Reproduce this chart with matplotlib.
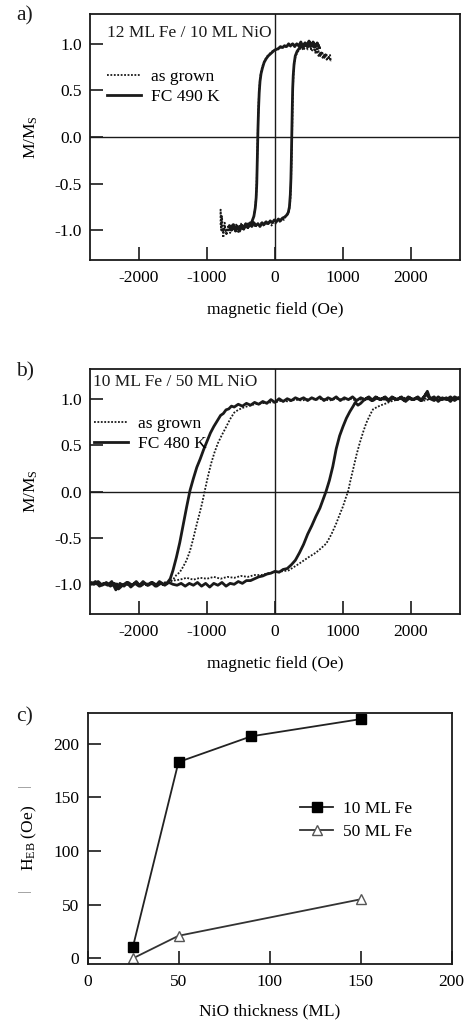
import matplotlib
matplotlib.use("Agg")
import matplotlib.pyplot as plt

plt.rcParams['font.family'] = ['Liberation Serif', 'DejaVu Serif']
plt.rcParams['mathtext.fontset'] = 'custom'
plt.rcParams['mathtext.rm'] = 'Liberation Serif'
plt.rcParams['mathtext.it'] = 'Liberation Serif:italic'
plt.rcParams['axes.unicode_minus'] = False

# ---------------- panel a: 12 ML Fe / 10 ML NiO ----------------
a_grown_desc = [(820, 0.82), (790, 0.86), (760, 0.83), (730, 0.89), (700, 0.85), (670, 0.91), (640, 0.87),
                (610, 0.95), (590, 0.91), (560, 0.99), (530, 0.95), (500, 1.01), (470, 0.97), (440, 1.02),
                (410, 0.98), (380, 1.01), (350, 0.97), (320, 1.00), (290, 0.98), (260, 1.01), (230, 0.97),
                (200, 0.99), (170, 0.96), (140, 0.98), (110, 0.95), (80, 0.96), (50, 0.94), (20, 0.95),
                (-10, 0.93), (-40, 0.92), (-70, 0.90), (-100, 0.88), (-130, 0.85), (-160, 0.81), (-185, 0.76),
                (-205, 0.70), (-220, 0.62), (-232, 0.50), (-242, 0.35), (-250, 0.15), (-256, -0.05),
                (-262, -0.25), (-268, -0.45), (-276, -0.62), (-288, -0.74), (-305, -0.83), (-330, -0.89),
                (-360, -0.93), (-390, -0.91), (-420, -0.97), (-450, -0.93), (-480, -1.00), (-510, -0.95),
                (-540, -1.02), (-570, -0.94), (-600, -0.99), (-630, -0.93), (-660, -1.03), (-690, -0.96),
                (-720, -1.05), (-740, -0.92), (-760, -1.08), (-780, -0.85), (-790, -1.00), (-800, -0.78)]
a_grown_asc = [(-800, -0.95), (-770, -1.02), (-740, -0.97), (-710, -1.04), (-680, -0.96), (-650, -1.01),
               (-620, -0.95), (-590, -1.00), (-560, -0.94), (-530, -0.99), (-500, -0.93), (-470, -0.98),
               (-440, -0.94), (-410, -0.97), (-380, -0.93), (-350, -0.96), (-320, -0.92), (-290, -0.97),
               (-260, -0.93), (-230, -0.96), (-200, -0.92), (-170, -0.95), (-140, -0.91), (-110, -0.94),
               (-80, -0.90), (-50, -0.95), (-20, -0.91), (10, -0.93), (40, -0.89), (70, -0.91), (100, -0.87),
               (130, -0.89), (160, -0.85), (190, -0.83), (210, -0.78), (225, -0.68), (235, -0.50),
               (242, -0.30), (248, -0.10), (253, 0.10), (258, 0.30), (263, 0.50), (270, 0.65), (282, 0.78),
               (300, 0.86), (330, 0.91), (360, 0.94), (390, 0.96), (420, 0.93), (450, 0.98), (480, 0.94),
               (510, 0.99), (540, 0.92), (570, 0.97), (600, 0.89), (630, 0.95), (660, 0.86), (690, 0.92),
               (720, 0.84), (750, 0.90), (780, 0.83), (810, 0.88), (820, 0.81)]
a_fc_desc = [(650, 0.96), (620, 1.01), (590, 0.97), (560, 1.02), (530, 0.98), (500, 1.03), (470, 0.99),
             (440, 1.01), (410, 0.97), (380, 1.02), (350, 0.98), (320, 1.00), (290, 0.97), (260, 1.00),
             (230, 0.98), (200, 1.00), (170, 0.97), (140, 0.98), (110, 0.96), (80, 0.97), (50, 0.95),
             (20, 0.94), (-10, 0.93), (-40, 0.91), (-70, 0.89), (-100, 0.87), (-130, 0.84), (-160, 0.80),
             (-185, 0.74), (-205, 0.68), (-220, 0.60), (-232, 0.48), (-242, 0.30), (-250, 0.10),
             (-256, -0.10), (-262, -0.30), (-268, -0.50), (-277, -0.65), (-290, -0.76), (-310, -0.85),
             (-340, -0.91), (-370, -0.94), (-400, -0.97), (-430, -0.93), (-460, -0.99), (-490, -0.95),
             (-520, -1.01), (-550, -0.96), (-580, -1.00), (-610, -0.94), (-640, -0.99), (-670, -0.95)]
a_fc_asc = [(-670, -0.97), (-640, -1.00), (-610, -0.96), (-580, -1.01), (-550, -0.97), (-520, -0.99),
            (-490, -0.95), (-460, -0.98), (-430, -0.94), (-400, -0.97), (-370, -0.93), (-340, -0.96),
            (-310, -0.92), (-280, -0.95), (-250, -0.93), (-220, -0.96), (-190, -0.92), (-160, -0.94),
            (-130, -0.91), (-100, -0.93), (-70, -0.90), (-40, -0.92), (-10, -0.89), (20, -0.91),
            (50, -0.88), (80, -0.90), (110, -0.87), (140, -0.86), (170, -0.84), (195, -0.81),
            (212, -0.75), (225, -0.62), (234, -0.45), (240, -0.25), (245, -0.05), (250, 0.15),
            (255, 0.35), (260, 0.52), (268, 0.66), (280, 0.78), (298, 0.87), (325, 0.92), (355, 0.95),
            (385, 0.98), (415, 0.96), (445, 1.00), (475, 0.97), (505, 1.02), (535, 0.98), (565, 1.01),
            (595, 0.97), (625, 1.00), (650, 0.96)]

# ---------------- panel b: 10 ML Fe / 50 ML NiO ----------------
b_grown_desc = [(2700, 1.00), (2600, 0.99), (2500, 1.01), (2400, 0.99), (2300, 1.00), (2200, 0.98),
                (2100, 1.00), (2000, 0.99), (1900, 1.01), (1800, 0.99), (1700, 1.00), (1600, 0.99),
                (1500, 1.01), (1400, 0.99), (1300, 1.00), (1200, 0.98), (1100, 1.00), (1000, 0.99),
                (900, 1.00), (800, 0.98), (700, 1.00), (600, 0.99), (500, 1.00), (400, 0.98), (300, 0.99),
                (200, 0.97), (100, 0.98), (0, 0.96), (-100, 0.96), (-200, 0.95), (-300, 0.94), (-400, 0.92),
                (-480, 0.90), (-540, 0.88), (-600, 0.85), (-660, 0.78), (-715, 0.70), (-780, 0.61),
                (-840, 0.52), (-890, 0.42), (-940, 0.30), (-990, 0.15), (-1035, 0.00), (-1070, -0.12),
                (-1107, -0.23), (-1160, -0.38), (-1206, -0.52), (-1250, -0.64), (-1300, -0.74),
                (-1350, -0.81), (-1400, -0.87), (-1450, -0.90), (-1500, -0.95), (-1560, -0.97),
                (-1650, -0.99), (-1800, -1.00), (-2000, -0.99), (-2200, -1.01), (-2400, -0.99),
                (-2600, -1.00), (-2700, -1.00)]
b_grown_asc = [(-2700, -1.00), (-2400, -0.99), (-2100, -1.00), (-1800, -0.99), (-1600, -0.98),
               (-1500, -0.96), (-1400, -0.95), (-1300, -0.93), (-1200, -0.95), (-1100, -0.93),
               (-1000, -0.94), (-900, -0.92), (-800, -0.94), (-700, -0.92), (-600, -0.93), (-500, -0.91),
               (-400, -0.92), (-300, -0.90), (-200, -0.90), (-100, -0.88), (0, -0.87), (100, -0.86),
               (200, -0.85), (265, -0.82), (350, -0.78), (430, -0.74), (510, -0.70), (600, -0.66),
               (680, -0.61), (755, -0.56), (830, -0.46), (903, -0.34), (950, -0.25), (1000, -0.16),
               (1040, -0.07), (1074, 0.00), (1110, 0.12), (1147, 0.235), (1200, 0.40), (1245, 0.52),
               (1300, 0.65), (1343, 0.74), (1400, 0.83), (1441, 0.885), (1500, 0.91), (1560, 0.93),
               (1637, 0.95), (1700, 0.97), (1800, 0.99), (1900, 1.00), (2000, 0.99), (2200, 1.00),
               (2400, 0.99), (2600, 1.01), (2700, 1.00)]
b_fc_desc = [(2700, 1.01), (2640, 0.98), (2580, 1.02), (2520, 0.99), (2460, 1.01), (2400, 0.97),
             (2340, 1.02), (2280, 1.00), (2220, 1.05), (2160, 0.98), (2100, 1.02), (2040, 0.99),
             (1980, 1.01), (1920, 0.97), (1860, 1.02), (1800, 0.99), (1740, 1.01), (1680, 0.98),
             (1620, 1.02), (1560, 0.99), (1500, 1.01), (1440, 0.98), (1380, 1.02), (1320, 0.99),
             (1260, 1.01), (1200, 0.98), (1140, 1.02), (1080, 0.99), (1020, 1.01), (960, 0.98),
             (900, 1.02), (840, 0.99), (780, 1.01), (720, 0.98), (660, 1.02), (600, 0.99), (540, 1.01),
             (480, 0.98), (420, 1.01), (360, 0.99), (300, 1.01), (240, 0.98), (180, 1.00), (120, 0.97),
             (60, 1.00), (0, 0.96), (-60, 0.99), (-120, 0.95), (-180, 0.97), (-240, 0.94), (-300, 0.96),
             (-360, 0.93), (-420, 0.95), (-480, 0.92), (-540, 0.94), (-600, 0.91), (-640, 0.92),
             (-680, 0.89), (-720, 0.88), (-760, 0.84), (-800, 0.82), (-850, 0.76), (-900, 0.70),
             (-950, 0.63), (-1000, 0.54), (-1050, 0.45), (-1100, 0.35), (-1150, 0.26), (-1200, 0.14),
             (-1250, 0.01), (-1300, -0.17), (-1350, -0.36), (-1400, -0.55), (-1450, -0.71),
             (-1500, -0.85), (-1540, -0.94), (-1580, -0.98), (-1640, -1.00), (-1700, -0.97),
             (-1760, -1.02), (-1820, -0.98), (-1880, -1.01), (-1940, -0.97), (-2000, -1.02),
             (-2060, -0.99), (-2120, -1.03), (-2180, -0.98), (-2240, -1.01), (-2300, -1.05),
             (-2360, -0.99), (-2420, -1.02), (-2480, -0.98), (-2540, -1.01), (-2600, -0.97),
             (-2660, -1.00), (-2700, -0.98)]
b_fc_asc = [(-2700, -1.00), (-2640, -0.97), (-2580, -1.02), (-2520, -0.99), (-2460, -1.01),
            (-2400, -0.97), (-2340, -1.06), (-2280, -0.99), (-2220, -1.02), (-2160, -0.98),
            (-2100, -1.01), (-2040, -0.97), (-1980, -1.02), (-1920, -0.99), (-1860, -1.01),
            (-1800, -0.98), (-1740, -1.02), (-1680, -0.99), (-1620, -1.01), (-1560, -0.98),
            (-1500, -1.00), (-1440, -1.01), (-1380, -0.99), (-1320, -1.02), (-1260, -0.99),
            (-1200, -1.01), (-1140, -0.98), (-1080, -1.02), (-1020, -0.99), (-960, -1.03),
            (-900, -0.99), (-840, -1.01), (-780, -0.98), (-720, -1.02), (-660, -0.99), (-600, -1.00),
            (-540, -0.97), (-480, -0.99), (-420, -0.96), (-360, -0.96), (-300, -0.94), (-240, -0.92),
            (-180, -0.91), (-120, -0.89), (-60, -0.88), (0, -0.86), (60, -0.87), (120, -0.84),
            (180, -0.83), (240, -0.79), (300, -0.74), (360, -0.66), (420, -0.57), (480, -0.46),
            (540, -0.37), (600, -0.27), (660, -0.18), (700, -0.10), (750, 0.00), (800, 0.12),
            (850, 0.27), (900, 0.46), (950, 0.60), (1000, 0.70), (1050, 0.79), (1100, 0.86),
            (1150, 0.92), (1180, 0.96), (1220, 0.93), (1260, 0.95), (1300, 0.98), (1360, 1.01),
            (1420, 0.98), (1480, 1.02), (1540, 0.99), (1600, 1.01), (1660, 0.98), (1720, 1.02),
            (1780, 0.99), (1840, 1.01), (1900, 0.98), (1960, 1.02), (2020, 0.99), (2080, 1.01),
            (2140, 0.98), (2200, 1.03), (2240, 1.08), (2280, 1.00), (2340, 0.98), (2400, 1.02),
            (2460, 0.99), (2520, 1.01), (2580, 0.97), (2640, 1.02), (2700, 1.00)]

# ---------------- panel c: exchange bias vs NiO thickness ----------------
c_thick_10 = [25, 50, 90, 150]
c_heb_10 = [11, 183, 207, 223]
c_thick_50 = [25, 50, 150]
c_heb_50 = [0, 21, 55]

hyst_xticks = [-2000, -1000, 0, 1000, 2000]
hyst_yticks = [-1.0, -0.5, 0.0, 0.5, 1.0]
c_xticks = [0, 50, 100, 150, 200]
c_yticks = [0, 50, 100, 150, 200]

INK = '#1a1a1a'
FS = 12.5
W, H = 466, 1023
fig = plt.figure(figsize=(W / 100, H / 100), dpi=100)


def box(l, t, r, b):
    return [l / W, 1 - b / H, (r - l) / W, (b - t) / H]


def style(ax):
    for s in ax.spines.values():
        s.set_color(INK)
        s.set_linewidth(1.3)
    ax.tick_params(direction='in', length=9.5, width=1.2, color=INK, labelsize=FS,
                   top=False, right=False, pad=6)
    ax.tick_params(axis='x', pad=7)


def split(pairs):
    return [p[0] for p in pairs], [p[1] for p in pairs]


dotted = dict(color=INK, lw=1.3, ls=(0, (1, 0.9)))
solid = dict(color=INK, lw=2.0, ls='-')


def hyst(ax, grown, fc, fc_label, title, leg_xy, title_xy):
    gd, ga = grown
    fd, fa = fc
    x, y = split(gd + ga)
    ax.plot(x, y, label='as grown', **dotted)
    x, y = split(fd + fa)
    ax.plot(x, y, label=fc_label, **solid)
    ax.axhline(0, color=INK, lw=1.0, zorder=0)
    ax.axvline(0, color=INK, lw=1.0, zorder=0)
    ax.set_xlim(-2720, 2720)
    ax.set_ylim(-1.32, 1.32)
    ax.set_xticks(hyst_xticks)
    ax.set_yticks(hyst_yticks)
    ax.set_yticklabels(['-1.0', '-0.5', '0.0', '0.5', '1.0'])
    ax.set_xlabel('magnetic field (Oe)', fontsize=FS, labelpad=12)
    ax.set_ylabel('M/M$_\\mathrm{S}$', fontsize=FS, labelpad=10)
    ax.text(title_xy[0], title_xy[1], title, transform=ax.transAxes, fontsize=FS,
            ha='left', va='center', color=INK)
    ax.legend(loc='center left', bbox_to_anchor=leg_xy, frameon=False, fontsize=FS,
              handlelength=2.0, handletextpad=0.55, labelspacing=0.22, borderpad=0,
              borderaxespad=0)
    style(ax)


axa = fig.add_axes(box(90, 14, 460, 260))
hyst(axa, (a_grown_desc, a_grown_asc), (a_fc_desc, a_fc_asc), 'FC 490 K',
     '12 ML Fe / 10 ML NiO', (0.045, 0.702), (0.046, 0.923))

axb = fig.add_axes(box(90, 369, 460, 614))
hyst(axb, (b_grown_desc, b_grown_asc), (b_fc_desc, b_fc_asc), 'FC 480 K',
     '10 ML Fe / 50 ML NiO', (0.01, 0.735), (0.008, 0.947))

axc = fig.add_axes(box(87.5, 712.7, 451.5, 964))
axc.plot(c_thick_10, c_heb_10, color='#222', lw=1.3, marker='s', ms=7.5,
         mfc='black', mec='black', label='10 ML Fe')
axc.plot(c_thick_50, c_heb_50, color='#333', lw=1.3, marker='^', ms=7.5,
         mfc='white', mec='#555', label='50 ML Fe')
axc.set_xlim(0, 200)
axc.set_ylim(-5.3, 229)
axc.set_xticks(c_xticks)
axc.set_yticks(c_yticks)
axc.set_xlabel('NiO thickness (ML)', fontsize=FS, labelpad=10)
axc.set_ylabel('H$_\\mathrm{EB}$ (Oe)', fontsize=FS, labelpad=10)
axc.legend(loc='center left', bbox_to_anchor=(0.585, 0.571), frameon=False, fontsize=FS,
           handlelength=1.9, handletextpad=0.55, labelspacing=0.39, borderpad=0, borderaxespad=0)
style(axc)

fig.text(25 / W, 1 - 786 / H, '|', rotation=90, color='#888', fontsize=10, ha='center', va='center')
fig.text(25 / W, 1 - 891 / H, '|', rotation=90, color='#888', fontsize=10, ha='center', va='center')

for lab, yy in (('a)', 16), ('b)', 372), ('c)', 717)):
    fig.text(25 / W, 1 - yy / H, lab, fontsize=15.5, ha='center', va='center', color=INK)

fig.savefig('out.png', dpi=100)
